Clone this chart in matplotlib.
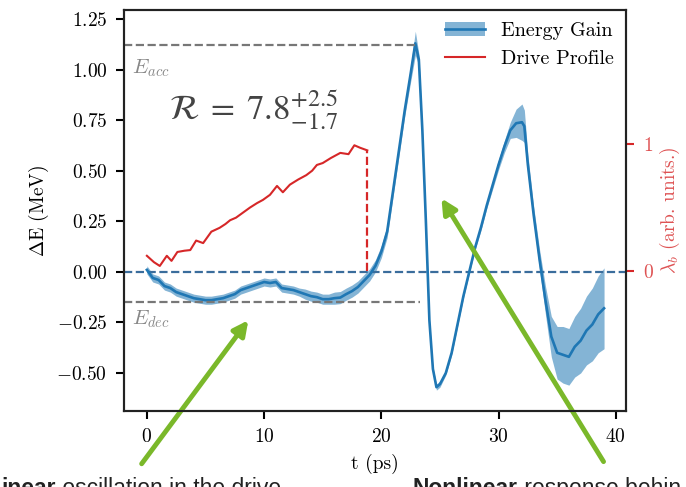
import matplotlib
matplotlib.use("Agg")
import matplotlib.pyplot as plt
import matplotlib.patches as mpatches
import matplotlib.lines as mlines
from matplotlib.text import Annotation
import numpy as np

# energy gain (MeV) vs time (ps), with uncertainty band
t_gain = [0.0, 0.5, 1.0, 1.5, 2.0, 2.5, 3.0, 3.5, 4.0, 4.5, 5.0, 5.5, 6.0, 6.5, 7.0,
          7.5, 8.0, 8.5, 9.0, 9.5, 10.0, 10.5, 11.0, 11.5, 12.0, 12.5, 13.0, 13.5,
          14.0, 14.5, 15.0, 15.5, 16.0, 16.5, 17.0, 17.5, 18.0, 18.5, 19.0, 19.5,
          20.0, 20.5, 21.0, 21.5, 22.0, 22.5, 22.9, 23.2, 23.5, 23.8, 24.1, 24.4,
          24.7, 25.0, 25.5, 26.0, 26.5, 27.0, 27.5, 28.0, 28.5, 29.0, 29.5, 30.0,
          30.5, 31.0, 31.5, 32.0, 32.2, 32.5, 33.0, 33.5, 34.0, 34.5, 35.0, 35.5,
          36.0, 36.5, 37.0, 37.5, 38.0, 38.5, 39.0]
gain = [0.01, -0.03, -0.04, -0.07, -0.08, -0.10, -0.11, -0.12, -0.13, -0.135, -0.14,
        -0.14, -0.135, -0.13, -0.12, -0.11, -0.09, -0.08, -0.07, -0.06, -0.05, -0.055,
        -0.05, -0.08, -0.085, -0.09, -0.10, -0.11, -0.12, -0.125, -0.135, -0.135,
        -0.13, -0.127, -0.11, -0.095, -0.075, -0.045, -0.015, 0.03, 0.10, 0.20, 0.40,
        0.60, 0.80, 0.98, 1.13, 1.05, 0.70, 0.25, -0.24, -0.48, -0.57, -0.555, -0.50,
        -0.40, -0.26, -0.12, 0.0, 0.12, 0.22, 0.33, 0.43, 0.53, 0.62, 0.70, 0.735,
        0.74, 0.72, 0.53, 0.28, 0.06, -0.14, -0.32, -0.40, -0.41, -0.42, -0.37, -0.34,
        -0.29, -0.26, -0.21, -0.18]
gain_err = [0.02, 0.02, 0.02, 0.02, 0.02, 0.02, 0.02, 0.02, 0.02, 0.02, 0.02, 0.02,
            0.02, 0.02, 0.02, 0.02, 0.02, 0.02, 0.02, 0.02, 0.02, 0.02, 0.02, 0.02,
            0.02, 0.02, 0.02, 0.025, 0.025, 0.025, 0.025, 0.025, 0.03, 0.03, 0.03,
            0.03, 0.03, 0.03, 0.03, 0.03, 0.03, 0.03, 0.03, 0.03, 0.03, 0.04, 0.06,
            0.03, 0.015, 0.01, 0.01, 0.01, 0.015, 0.015, 0.01, 0.01, 0.01, 0.01, 0.01,
            0.01, 0.015, 0.015, 0.02, 0.025, 0.03, 0.04, 0.07, 0.09, 0.08, 0.05, 0.04,
            0.05, 0.07, 0.10, 0.13, 0.14, 0.14, 0.15, 0.16, 0.17, 0.18, 0.19, 0.20]

# drive profile (arb. units)
t_drive = [0.0, 0.6, 1.1, 1.7, 2.1, 2.6, 3.2, 3.7, 4.2, 4.8, 5.5, 6.2, 6.7, 7.1, 7.6,
           8.2, 8.8, 9.4, 9.9, 10.5, 11.1, 11.6, 12.2, 12.9, 13.6, 14.1, 14.5, 15.0,
           15.7, 16.5, 17.2, 17.7, 18.2, 18.8]
drive = [0.12, 0.07, 0.04, 0.12, 0.08, 0.15, 0.16, 0.165, 0.24, 0.22, 0.31, 0.34, 0.37,
         0.40, 0.42, 0.46, 0.50, 0.535, 0.56, 0.60, 0.67, 0.62, 0.68, 0.72, 0.755, 0.79,
         0.835, 0.85, 0.89, 0.93, 0.92, 0.99, 0.97, 0.95]

E_acc = 1.124
E_dec = -0.147
t_acc_end = 22.9
t_dec_end = 23.3

plt.rcParams['font.family'] = 'serif'
plt.rcParams['font.serif'] = ['cmr10']
plt.rcParams['mathtext.fontset'] = 'cm'
plt.rcParams['axes.formatter.use_mathtext'] = True
plt.rcParams['axes.unicode_minus'] = True

fig = plt.figure(figsize=(6.86, 4.87), dpi=100)
ax = fig.add_axes([0.1808, 0.156, 0.7317, 0.8235])
ax2 = ax.twinx()

red = '#d62728'
blue = '#1f77b4'
green = '#7ab82a'

ax.set_xlim(-1.95, 40.87)
ax.set_ylim(-0.688, 1.295)
ax2.set_ylim(-1.102, 2.055)

tg = np.array(t_gain)
g = np.array(gain)
ge = np.array(gain_err)
ax.fill_between(tg, g - ge, g + ge, color=blue, alpha=0.55, lw=0)
ax.plot(tg, g, color=blue, lw=1.9)

ax.axhline(0, color='#3a6d9c', ls='--', lw=1.6, zorder=1)
ax.plot([-1.95, t_acc_end], [E_acc, E_acc], color='#777777', ls='--', lw=1.6)
ax.plot([-1.95, t_dec_end], [E_dec, E_dec], color='#777777', ls='--', lw=1.6)
ax.text(-1.3, 1.005, r'$E_{acc}$', color='#888888', fontsize=15, va='center')
ax.text(-1.3, -0.235, r'$E_{dec}$', color='#888888', fontsize=15, va='center')
ax.text(1.9, 0.80, r'$\mathcal{R}\;=\;7.8^{+2.5}_{-1.7}$', fontsize=25,
        color='#444444', va='center', math_fontfamily='stix')

dline, = ax2.plot(t_drive, drive, color=red, lw=1.5)
ax2.plot([t_drive[-1], t_drive[-1]], [0, drive[-1]], color=red, ls='--', lw=1.6)

for a in (ax, ax2):
    for s in a.spines.values():
        s.set_linewidth(1.5)
        s.set_color('#222222')

ax.set_xticks([0, 10, 20, 30, 40])
ax.set_yticks([-0.5, -0.25, 0.0, 0.25, 0.5, 0.75, 1.0, 1.25])
ax.yaxis.set_major_formatter(matplotlib.ticker.FormatStrFormatter('$%.2f$'))
ax.tick_params(direction='out', length=6, width=1.5, labelsize=14, pad=6)
ax2.set_yticks([0, 1])
ax2.tick_params(direction='out', length=6, width=1.5, labelsize=14, pad=6,
                colors=red)
for lab in ax2.get_yticklabels():
    lab.set_alpha(0.8)

ax.set_xlabel('t (ps)', fontsize=14, labelpad=6)
ax.set_ylabel(r'$\Delta$E (MeV)', fontsize=14)
ax2.set_ylabel(r'$\lambda_b$ (arb. units.)', fontsize=14, color=red, alpha=0.8,
               labelpad=3)

patch = mpatches.Patch(color=blue, alpha=0.55, lw=0)
ax2.legend([(patch, mlines.Line2D([], [], color=blue, lw=1.9)), dline],
           ['Energy Gain', 'Drive Profile'], loc='upper right', frameon=False,
           fontsize=14.5, handlelength=2.0, borderaxespad=0.2)

# annotation arrows pointing in from the surrounding slide
ax.annotate('', xy=(250, 169), xytext=(140, 21), xycoords='figure pixels',
            textcoords='figure pixels', annotation_clip=False, zorder=10,
            arrowprops=dict(arrowstyle='-|>', color=green, lw=3.5, mutation_scale=22))
ax.annotate('', xy=(440, 291), xytext=(605, 23), xycoords='figure pixels',
            textcoords='figure pixels', annotation_clip=False, zorder=10,
            arrowprops=dict(arrowstyle='-|>', color=green, lw=3.5, mutation_scale=22))

sans = ['Liberation Sans', 'DejaVu Sans']
t1 = fig.text(1 / 686, -8 / 487, 'inear', fontsize=16.5, fontweight='bold',
              family=sans, color='#222222', va='baseline')
fig.add_artist(Annotation(' oscillation in the drive', xy=(1, 0), xycoords=t1,
                          va='bottom', fontsize=16.5, family=sans, color='#222222'))
t2 = fig.text(413 / 686, -8 / 487, 'Nonlinear', fontsize=16.5, fontweight='bold',
              family=sans, color='#222222', va='baseline')
fig.add_artist(Annotation(' response behin', xy=(1, 0), xycoords=t2,
                          va='bottom', fontsize=16.5, family=sans, color='#222222'))

fig.savefig('out.png', dpi=100)
